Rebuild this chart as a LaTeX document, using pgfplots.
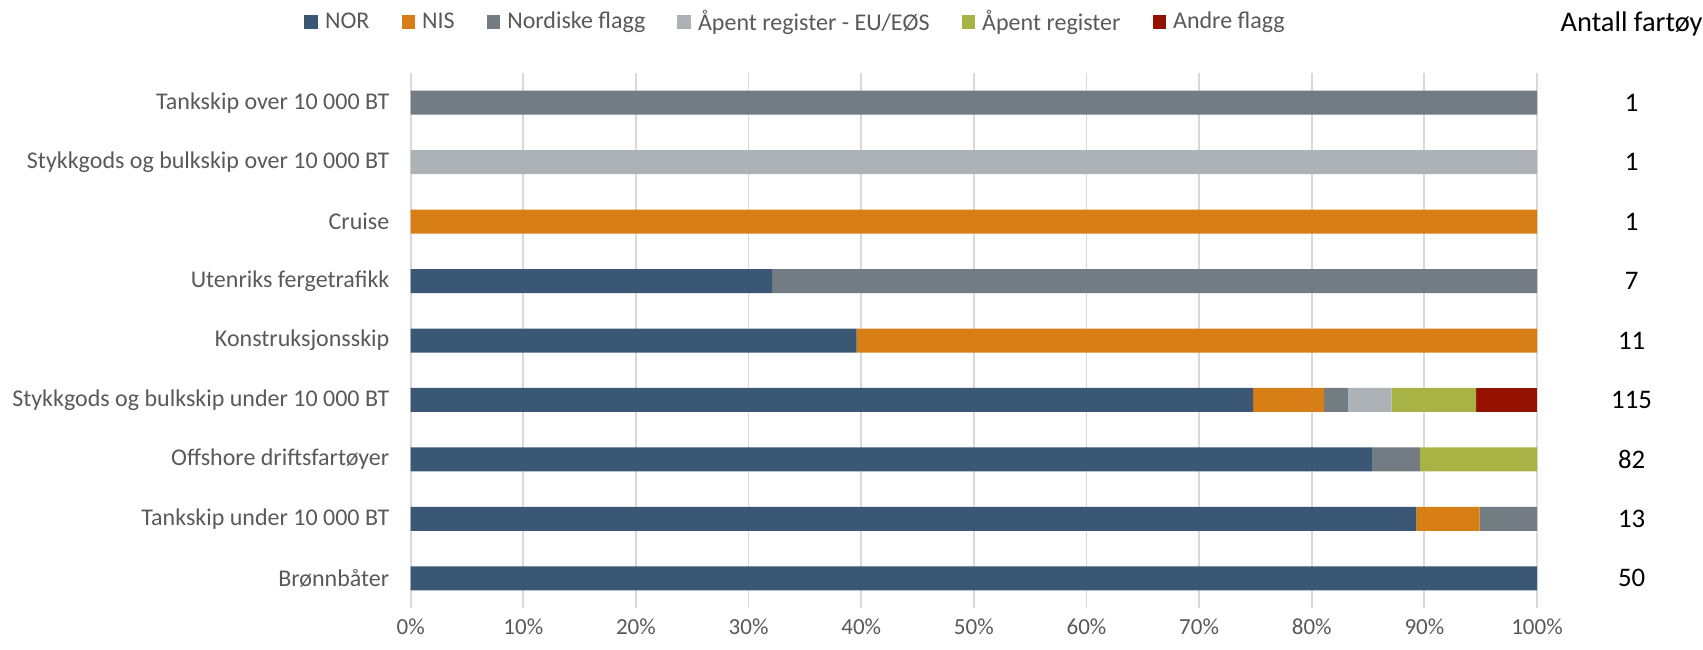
\documentclass[border=0pt]{standalone}
\usepackage{fontspec}
\setmainfont{Carlito}
\usepackage{pgfplots}
\usepackage{pgfplotstable}
\pgfplotsset{compat=1.18}
\definecolor{cNOR}{HTML}{3A5876}
\definecolor{cNIS}{HTML}{D87E17}
\definecolor{cNORD}{HTML}{737B83}
\definecolor{cEU}{HTML}{ADB2B6}
\definecolor{cAPEN}{HTML}{A7B445}
\definecolor{cANDRE}{HTML}{941100}
\definecolor{labgray}{HTML}{595959}
\definecolor{gridgray}{HTML}{D9D9D9}

% y: 0 Brønnbåter ... 8 Tankskip over 10 000 BT
\pgfplotstableread{
y v
0 100
1 89.3
2 85.4
3 74.8
4 39.6
5 32.1
6 0
7 0
8 0
}\tNOR
\pgfplotstableread{
y v
0 0
1 5.6
2 0
3 6.3
4 60.4
5 0
6 100
7 0
8 0
}\tNIS
\pgfplotstableread{
y v
0 0
1 5.1
2 4.2
3 2.1
4 0
5 67.9
6 0
7 0
8 100
}\tNORD
\pgfplotstableread{
y v
0 0
1 0
2 0
3 3.9
4 0
5 0
6 0
7 100
8 0
}\tEU
\pgfplotstableread{
y v
0 0
1 0
2 10.4
3 7.5
4 0
5 0
6 0
7 0
8 0
}\tAPEN
\pgfplotstableread{
y v
0 0
1 0
2 0
3 5.4
4 0
5 0
6 0
7 0
8 0
}\tANDRE

\begin{document}
\begin{tikzpicture}[x=1pt,y=1pt]
\useasboundingbox (0,0) rectangle (851.5,324.5);
\begin{axis}[
  at={(205.35pt,20.5pt)}, anchor=south west,
  scale only axis, width=563.15pt, height=267.5pt,
  xbar stacked, bar width=12pt,
  xmin=0, xmax=100, ymin=-0.5, ymax=8.5,
  xtick={0,10,...,100},
  xticklabel={\pgfmathprintnumber{\tick}\%},
  /pgf/number format/assume math mode=true,
  ytick={0,...,8},
  yticklabels={Brønnbåter,Tankskip under 10 000 BT,Offshore driftsfartøyer,Stykkgods og bulkskip under 10 000 BT,Konstruksjonsskip,Utenriks fergetrafikk,Cruise,Stykkgods og bulkskip over 10 000 BT,Tankskip over 10 000 BT},
  xmajorgrids, major grid style={gridgray, line width=0.9pt},
  axis line style={draw=none}, tick style={draw=none},
  yticklabel style={font=\fontsize{12}{14}\selectfont, text=labgray, inner sep=0pt},
  yticklabel shift=10.5pt,
  xticklabel style={font=\fontsize{11.5}{13}\selectfont, text=labgray, inner sep=0pt, anchor=center},
  xticklabel shift=9.5pt,
  clip=false,
  legend columns=6,
  legend style={draw=none, fill=none, at={(0.3426,1.0953)}, anchor=center,
    font=\fontsize{12}{14}\selectfont, text=labgray, inner sep=0pt,
    /tikz/every even column/.append style={column sep=14pt}},
  legend cell align=left,
  legend image code/.code={\fill[#1] (0pt,-3.6pt) rectangle (6.6pt,3.6pt); \path (8.3pt,0pt);},
]
\addplot[fill=cNOR, draw=none] table[x=v,y=y]{\tNOR};
\addplot[fill=cNIS, draw=none] table[x=v,y=y]{\tNIS};
\addplot[fill=cNORD, draw=none] table[x=v,y=y]{\tNORD};
\addplot[fill=cEU, draw=none] table[x=v,y=y]{\tEU};
\addplot[fill=cAPEN, draw=none] table[x=v,y=y]{\tAPEN};
\addplot[fill=cANDRE, draw=none] table[x=v,y=y]{\tANDRE};
\legend{NOR,NIS,Nordiske flagg,Åpent register - EU/EØS,Åpent register,Andre flagg}
\foreach \yy/\nn in {0/50,1/13,2/82,3/115,4/11,5/7,6/1,7/1,8/1}{
  \edef\temp{\noexpand\node[font=\noexpand\fontsize{13.4}{15}\noexpand\selectfont, text=black, anchor=center] at (axis cs:108.4,\yy) {\nn};}
  \temp
}
\end{axis}
\node[font=\fontsize{14.2}{16}\selectfont, anchor=east, inner sep=0pt] at (851.5,312.5) {Antall fartøy};
\end{tikzpicture}
\end{document}
